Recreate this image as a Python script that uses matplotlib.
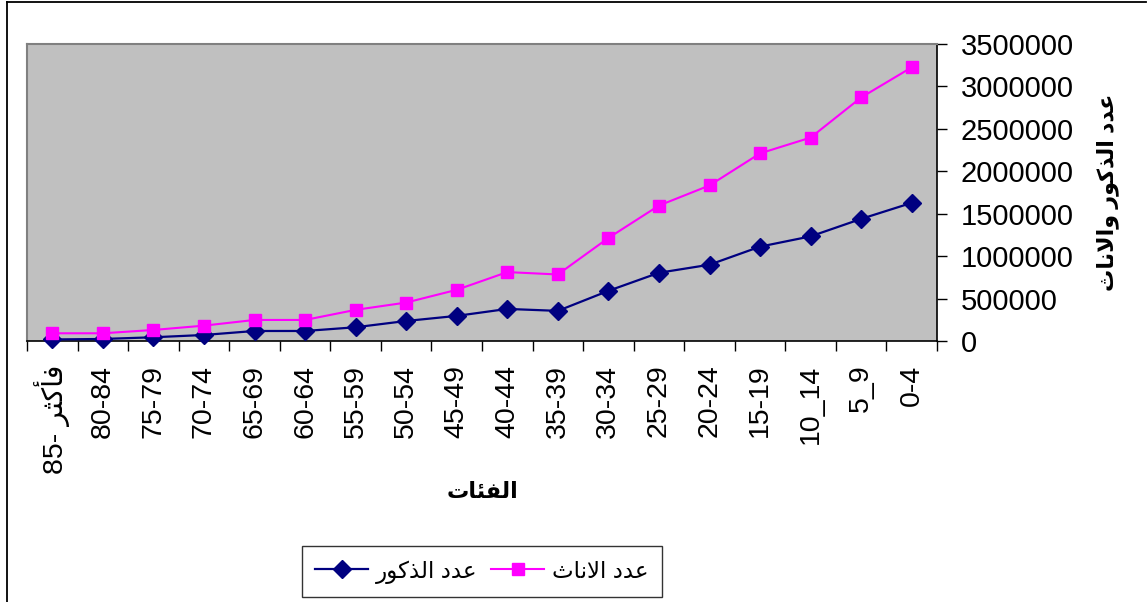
import matplotlib
matplotlib.use("Agg")
import matplotlib.pyplot as plt
from matplotlib.lines import Line2D
from matplotlib.ticker import FixedLocator, FuncFormatter

plt.rcParams['font.family'] = ['Liberation Sans', 'DejaVu Sans']

# Arabic strings written in shaped presentation forms, visual (left-to-right) order
MALE_LABEL = "\uFEAD\uFEEE\uFEDB\uFEAC\uFEDF\uFE8D \uFEA9\uFEAA\uFECB"          # عدد الذكور
FEMALE_LABEL = "\uFE99\uFE8E\uFEE7\uFEFB\uFE8D \uFEA9\uFEAA\uFECB"              # عدد الاناث
X_TITLE = "\uFE95\uFE8E\uFE8C\uFED4\uFEDF\uFE8D"                                # الفئات
Y_TITLE = ("\uFE99\uFE8E\uFEE7\uFEFB\uFE8D\uFEED \uFEAD\uFEEE\uFEDB\uFEAC\uFEDF\uFE8D "
           "\uFEA9\uFEAA\uFECB")                                                 # عدد الذكور والاناث

# categories from youngest (drawn at right) to oldest (drawn at left)
categories = ["0-4", "5_9", "10_14", "15-19", "20-24", "25-29", "30-34", "35-39",
              "40-44", "45-49", "50-54", "55-59", "60-64", "65-69", "70-74",
              "75-79", "80-84", "85- \uFEAE\uFE9C\uFEDB\uFE84\uFED3"]

males = [1628000, 1439000, 1233000, 1112000, 899000, 804000, 591000, 355000,
         378000, 296000, 236000, 162000, 118000, 118000, 71000, 44000, 24000, 18000]

females = [3225000, 2870000, 2397000, 2211000, 1833000, 1596000, 1214000, 784000,
           812000, 603000, 453000, 367000, 248000, 248000, 181000, 130000, 91000, 91000]

y_ticks = [0, 500000, 1000000, 1500000, 2000000, 2500000, 3000000, 3500000]

W, H = 1147, 602
fig = plt.figure(figsize=(W / 100, H / 100), dpi=100)
fig.patch.set_facecolor('white')

ax = fig.add_axes([27 / W, 1 - 341 / H, 910 / W, 297 / H])
ax.set_facecolor('#C0C0C0')

x = list(range(len(categories)))
ax.plot(x, males, color='#000080', lw=1.6, marker='D', markersize=9,
        markerfacecolor='#000080', markeredgecolor='#000080', label=MALE_LABEL,
        clip_on=False, zorder=3)
ax.plot(x, females, color='#FF00FF', lw=1.5, marker='s', markersize=8.5,
        markerfacecolor='#FF00FF', markeredgecolor='#FF00FF', label=FEMALE_LABEL,
        clip_on=False, zorder=3)

ax.set_xlim(len(categories) - 0.5, -0.5)
ax.set_ylim(0, 3500000)

# y axis on the right
ax.yaxis.tick_right()
ax.set_yticks(y_ticks)
ax.yaxis.set_major_formatter(FuncFormatter(lambda v, p: f"{int(v)}"))
ax.tick_params(axis='y', which='major', direction='out', length=7, width=1,
               pad=10, labelsize=21, colors='black')

# x axis: labels at centres, tick marks at category boundaries
ax.set_xticks(x)
ax.set_xticklabels(categories, rotation=90, va='top', ha='center')
ax.xaxis.set_minor_locator(FixedLocator([i - 0.5 for i in range(len(categories) + 1)]))
ax.tick_params(axis='x', which='major', length=0, pad=17, labelsize=20.5)
ax.tick_params(axis='x', which='minor', direction='out', length=7, width=1, color='black')

for side in ['left', 'top']:
    ax.spines[side].set_color('#808080')
    ax.spines[side].set_linewidth(1.5)
for side in ['right', 'bottom']:
    ax.spines[side].set_color('black')
    ax.spines[side].set_linewidth(1.2)

fig.text(1108 / W, 1 - 192 / H, Y_TITLE, rotation=90, ha='center', va='center',
         fontsize=16, fontweight='bold')
fig.text(483 / W, 1 - 493 / H, X_TITLE, ha='center', va='center',
         fontsize=16, fontweight='bold')

leg = fig.legend(handles=ax.get_lines(), labels=[MALE_LABEL, FEMALE_LABEL],
                 loc='center', bbox_to_anchor=(482 / W, 1 - 571.5 / H), ncol=2,
                 fontsize=16.5, frameon=True, fancybox=False, handlelength=2.3,
                 columnspacing=0.6, handletextpad=0.35, borderpad=0.6,
                 borderaxespad=0, markerfirst=True)
leg.get_frame().set_edgecolor('black')
leg.get_frame().set_linewidth(1.0)

# outer chart border (left and top visible)
fig.add_artist(Line2D([7.5 / W, 7.5 / W], [0, 1 - 1.5 / H], color='black', lw=1.3,
                      transform=fig.transFigure))
fig.add_artist(Line2D([7.5 / W, 1146 / W], [1 - 1.5 / H, 1 - 1.5 / H], color='black',
                      lw=1.3, transform=fig.transFigure))

fig.savefig('out.png', dpi=100, facecolor='white')
